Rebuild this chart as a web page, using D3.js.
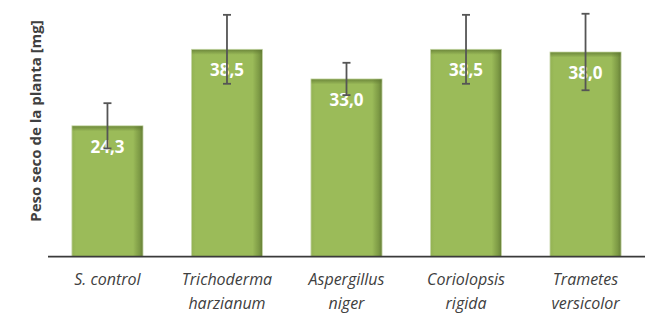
<!DOCTYPE html>
<html lang="es">
<head>
<meta charset="utf-8">
<title>Peso seco de la planta</title>
<script src="https://cdn.jsdelivr.net/npm/d3@7"></script>
<style>
  body { margin: 0; background: #fff; }
  text { font-family: "Open Sans", "Liberation Sans", sans-serif; }
</style>
</head>
<body>
<svg width="666" height="320"></svg>
<script>
// datos
var categories = [["S. control"], ["Trichoderma", "harzianum"], ["Aspergillus", "niger"], ["Coriolopsis", "rigida"], ["Trametes", "versicolor"]];
var values = [24.3, 38.5, 33.0, 38.5, 38.0];
var errors = [4.2, 6.4, 3.0, 6.4, 7.1];
var valueLabels = ["24,3", "38,5", "33,0", "38,5", "38,0"];
var yTitle = "Peso seco de la planta [mg]";

var svg = d3.select("svg");
var plotLeft = 48, plotRight = 645, plotBase = 256.7, plotTop = 14.3;

var x = d3.scaleBand()
    .domain(d3.range(values.length))
    .range([plotLeft, plotRight])
    .paddingInner(0.405)
    .paddingOuter(0.2);
var y = d3.scaleLinear().domain([0, 45]).range([plotBase, plotTop]);

var defs = svg.append("defs");
var g1 = defs.append("linearGradient").attr("id", "side").attr("x1", 0).attr("x2", 1).attr("y1", 0).attr("y2", 0);
g1.append("stop").attr("offset", "0").attr("stop-color", "#93b253");
g1.append("stop").attr("offset", "0.06").attr("stop-color", "#9bbb59");
g1.append("stop").attr("offset", "0.86").attr("stop-color", "#9bbb59");
g1.append("stop").attr("offset", "0.95").attr("stop-color", "#7d9a45");
g1.append("stop").attr("offset", "1").attr("stop-color", "#667f36");
var g2 = defs.append("linearGradient").attr("id", "topShade").attr("x1", 0).attr("x2", 0).attr("y1", 0).attr("y2", 1);
g2.append("stop").attr("offset", "0").attr("stop-color", "#5d7531").attr("stop-opacity", 0.7);
g2.append("stop").attr("offset", "1").attr("stop-color", "#5d7531").attr("stop-opacity", 0);

// barras
svg.selectAll("rect.bar")
    .data(values)
    .enter()
    .append("rect")
    .attr("class", "bar")
    .attr("x", function(d, i) { return x(i); })
    .attr("y", function(d) { return y(d); })
    .attr("width", x.bandwidth())
    .attr("height", function(d) { return plotBase - y(d); })
    .attr("fill", "url(#side)")
    .attr("stroke", "#c9d8ad")
    .attr("stroke-width", 0.8);

svg.selectAll("rect.shade")
    .data(values)
    .enter()
    .append("rect")
    .attr("class", "shade")
    .attr("x", function(d, i) { return x(i) + 0.5; })
    .attr("y", function(d) { return y(d) + 0.5; })
    .attr("width", x.bandwidth() - 1)
    .attr("height", 5)
    .attr("fill", "url(#topShade)");

// eje x
svg.append("line")
    .attr("x1", plotLeft).attr("x2", plotRight)
    .attr("y1", plotBase).attr("y2", plotBase)
    .attr("stroke", "#3a3a3a")
    .attr("stroke-width", 1.8);

// etiquetas de valor
svg.selectAll("text.val")
    .data(values)
    .enter()
    .append("text")
    .attr("class", "val")
    .attr("x", function(d, i) { return x(i) + x.bandwidth() / 2; })
    .attr("y", function(d) { return y(d) + 27; })
    .attr("text-anchor", "middle")
    .attr("fill", "#fff")
    .attr("font-size", "17px")
    .attr("font-weight", "bold")
    .text(function(d, i) { return valueLabels[i]; });

// barras de error
var eb = svg.selectAll("g.err")
    .data(values)
    .enter()
    .append("g")
    .attr("class", "err")
    .attr("stroke", "#555")
    .attr("stroke-width", 1.8);
eb.append("line")
    .attr("x1", function(d, i) { return x(i) + x.bandwidth() / 2; })
    .attr("x2", function(d, i) { return x(i) + x.bandwidth() / 2; })
    .attr("y1", function(d, i) { return y(d + errors[i]); })
    .attr("y2", function(d, i) { return y(d - errors[i]); });
eb.append("line")
    .attr("x1", function(d, i) { return x(i) + x.bandwidth() / 2 - 4; })
    .attr("x2", function(d, i) { return x(i) + x.bandwidth() / 2 + 4; })
    .attr("y1", function(d, i) { return y(d + errors[i]); })
    .attr("y2", function(d, i) { return y(d + errors[i]); });
eb.append("line")
    .attr("x1", function(d, i) { return x(i) + x.bandwidth() / 2 - 4; })
    .attr("x2", function(d, i) { return x(i) + x.bandwidth() / 2 + 4; })
    .attr("y1", function(d, i) { return y(d - errors[i]); })
    .attr("y2", function(d, i) { return y(d - errors[i]); });

// categorias
var cat = svg.selectAll("text.cat")
    .data(categories)
    .enter()
    .append("text")
    .attr("class", "cat")
    .attr("text-anchor", "middle")
    .attr("fill", "#404040")
    .attr("font-size", "16px")
    .attr("font-style", "italic");
cat.selectAll("tspan")
    .data(function(d, i) { return d.map(function(s) { return { s: s, i: i }; }); })
    .enter()
    .append("tspan")
    .attr("x", function(d) { return x(d.i) + x.bandwidth() / 2; })
    .attr("y", function(d, j) { return 285 + j * 24; })
    .text(function(d) { return d.s; });

// titulo eje y
svg.append("text")
    .attr("transform", "translate(41,121) rotate(-90)")
    .attr("text-anchor", "middle")
    .attr("fill", "#404040")
    .attr("font-size", "15px")
    .attr("font-weight", "bold")
    .text(yTitle);
</script>
</body>
</html>
